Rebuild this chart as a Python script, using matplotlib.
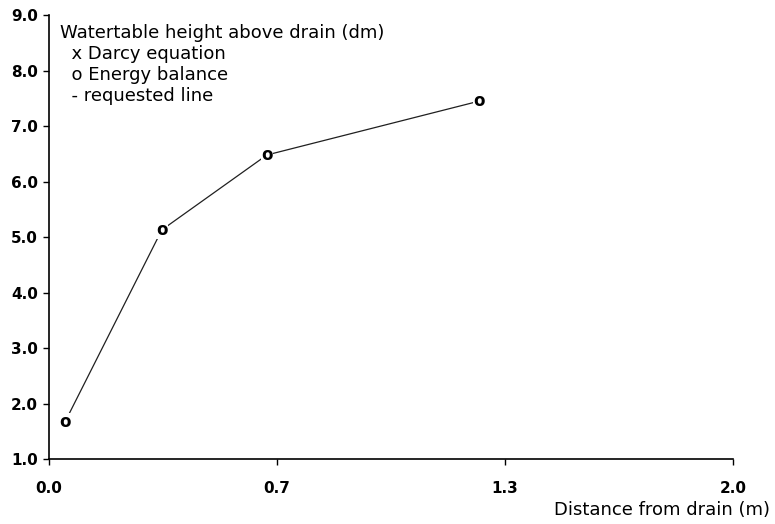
import matplotlib
matplotlib.use('Agg')
import matplotlib.pyplot as plt

# distance from drain (m) and watertable height (dm), energy balance points
distance = [0.047, 0.330, 0.637, 1.257]
height = [1.67, 5.13, 6.48, 7.45]

x_ticks = [0.0, 2 / 3, 4 / 3, 2.0]
x_labels = ['0.0', '0.7', '1.3', '2.0']
y_ticks = [1, 2, 3, 4, 5, 6, 7, 8, 9]
y_labels = ['1.0', '2.0', '3.0', '4.0', '5.0', '6.0', '7.0', '8.0', '9.0']

plt.rcParams['font.family'] = ['DejaVu Sans']

fig = plt.figure(figsize=(7.75, 5.24), dpi=100)
ax = fig.add_axes([0.0632, 0.124, 0.8826, 0.847])

ax.plot(distance, height, color='#202020', lw=0.9)
for xv, yv in zip(distance, height):
    ax.text(xv, yv, 'o', ha='center', va='center', fontsize=12, fontweight='bold',
            bbox=dict(facecolor='white', edgecolor='none', pad=0.3))

ax.set_xlim(0, 2.0)
ax.set_ylim(1, 9)
ax.set_xticks(x_ticks)
ax.set_xticklabels(x_labels, fontsize=11, fontweight='bold')
ax.set_yticks(y_ticks)
ax.set_yticklabels(y_labels, fontsize=11, fontweight='bold')
ax.tick_params(length=4, width=1, direction='out', pad=4)
ax.tick_params(axis='x', pad=12)
for s in ['top', 'right']:
    ax.spines[s].set_visible(False)
for s in ['left', 'bottom']:
    ax.spines[s].set_linewidth(1.2)

legend_lines = ['Watertable height above drain (dm)', '  x Darcy equation',
                '  o Energy balance', '  - requested line']
for i, t in enumerate(legend_lines):
    fig.text(60 / 775, 1 - (33 + 21 * i) / 524, t, fontsize=13, va='center', ha='left')

fig.text(770 / 775, 1 - 510 / 524, 'Distance from drain (m)', fontsize=13,
         ha='right', va='center')

fig.savefig('out.png', dpi=100)
